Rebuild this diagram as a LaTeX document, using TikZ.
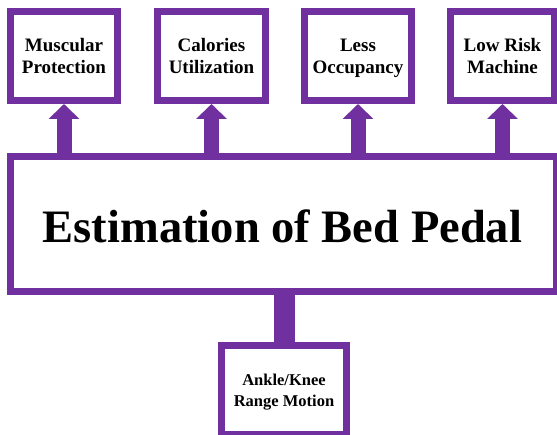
\documentclass[tikz,border=0pt]{standalone}
\usepackage{fontspec}
\setmainfont{Liberation Serif}
\usetikzlibrary{arrows.meta}
\definecolor{boxpurple}{RGB}{112,48,160}
\tikzset{
  smallbox/.style={draw=boxpurple, line width=7pt, fill=white, rectangle,
    minimum width=107pt, minimum height=89pt, inner sep=0pt, align=center,
    font=\fontsize{19}{22}\selectfont\bfseries},
  upfat/.style={draw=boxpurple, line width=15pt,
    -{Triangle[width=30pt,length=15pt]}},
}
\begin{document}
\begin{tikzpicture}[x=1pt,y=1pt]
\useasboundingbox (0,0) rectangle (557,435);
\fill[white] (0,0) rectangle (557,435);
\node[smallbox] (mus) at (64,379) {Muscular\\Protection};
\node[smallbox, minimum width=108pt] (cal) at (211.5,379) {Calories\\Utilization};
\node[smallbox] (less) at (358,379) {Less\\\raisebox{0pt}[\height][0pt]{Occupancy}};
\node[smallbox, minimum width=104pt] (low) at (502.5,379) {Low Risk\\Machine};
\node[draw=boxpurple, line width=7pt, fill=white, minimum width=546pt,
  minimum height=135pt, inner sep=0pt] (main) at (283.5,211) {};
\node[font=\fontsize{46.5}{50}\selectfont\bfseries] (title) at (282.5,209) {Estimation of Bed Pedal};
\node[smallbox, minimum width=125pt,
  font=\fontsize{16.5}{21}\selectfont\bfseries] (ank) at (284,45) {Ankle/Knee\\\raisebox{0pt}[\height][0pt]{Range Motion}};
\draw[upfat] (mus.south |- main.north) -- (mus.south);
\draw[upfat] (cal.south |- main.north) -- (cal.south);
\draw[upfat] (less.south |- main.north) -- (less.south);
\draw[upfat] (low.south |- main.north) -- (low.south);
\draw[boxpurple, line width=21pt] (ank.north |- main.south) -- (ank.north);
\end{tikzpicture}
\end{document}
